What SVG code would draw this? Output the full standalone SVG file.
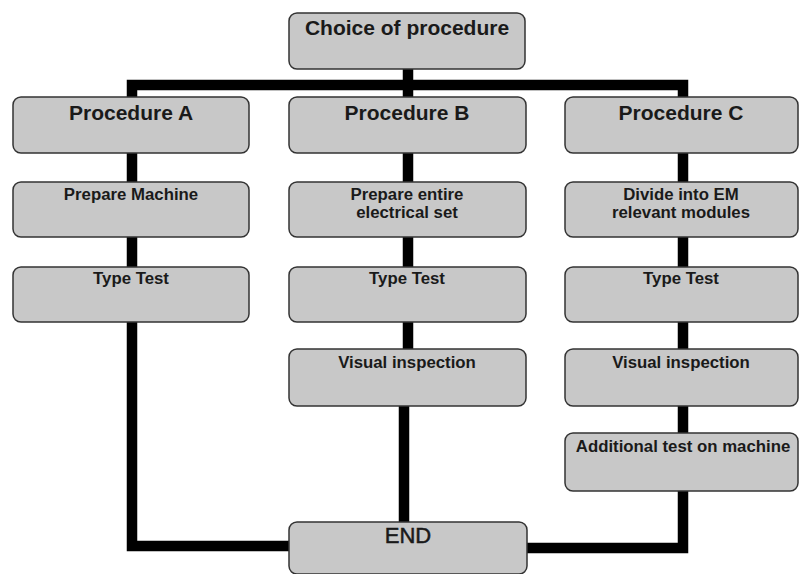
<svg xmlns="http://www.w3.org/2000/svg" width="799" height="574" viewBox="0 0 799 574">
<style>
.box{fill:#c8c8c8;stroke:#333;stroke-width:1.5}
.h{font-family:"Liberation Sans",Arial,sans-serif;font-weight:bold;font-size:21px;fill:#1a1a1a;text-anchor:middle}
.t{font-family:"Liberation Sans",Arial,sans-serif;font-weight:bold;font-size:16.8px;fill:#1a1a1a;text-anchor:middle}
.end{font-family:"Liberation Sans",Arial,sans-serif;font-size:22px;fill:#1a1a1a;stroke:#1a1a1a;stroke-width:0.5;text-anchor:middle}
.c{fill:none;stroke:#000;stroke-width:10.5;stroke-linejoin:miter}
</style>
<rect width="799" height="574" fill="#fff"/>
<g id="connectors">
<path class="c" d="M408 69 V85"/>
<path class="c" d="M132 97 V85 H683 V97"/>
<path class="c" d="M408 85 V97"/>
<path class="c" d="M132 153 V546 H289"/>
<path class="c" d="M408 153 V349"/>
<path class="c" d="M404 406 V522"/>
<path class="c" d="M683 153 V548 H527"/>
</g>
<g id="choice"><rect class="box" x="289" y="13" width="236" height="56" rx="8"/><text class="h" x="407" y="35">Choice of procedure</text></g>
<g id="procA"><rect class="box" x="13" y="97" width="236" height="56" rx="8"/><text class="h" x="131" y="120">Procedure A</text></g>
<g id="procB"><rect class="box" x="289" y="97" width="237" height="56" rx="8"/><text class="h" x="407" y="120">Procedure B</text></g>
<g id="procC"><rect class="box" x="565" y="97" width="233" height="56" rx="8"/><text class="h" x="681" y="120">Procedure C</text></g>
<g id="prepA"><rect class="box" x="13" y="182" width="236" height="55" rx="8"/><text class="t" x="131" y="200">Prepare Machine</text></g>
<g id="prepB"><rect class="box" x="289" y="182" width="237" height="55" rx="8"/><text class="t" x="407" y="200">Prepare entire</text><text class="t" x="407" y="218">electrical set</text></g>
<g id="divC"><rect class="box" x="565" y="182" width="233" height="55" rx="8"/><text class="t" x="681" y="200">Divide into EM</text><text class="t" x="681" y="218">relevant modules</text></g>
<g id="typeA"><rect class="box" x="13" y="267" width="236" height="55" rx="8"/><text class="t" x="131" y="284">Type Test</text></g>
<g id="typeB"><rect class="box" x="289" y="267" width="237" height="55" rx="8"/><text class="t" x="407" y="284">Type Test</text></g>
<g id="typeC"><rect class="box" x="565" y="267" width="233" height="55" rx="8"/><text class="t" x="681" y="284">Type Test</text></g>
<g id="visB"><rect class="box" x="289" y="349" width="237" height="57" rx="8"/><text class="t" x="407" y="368">Visual inspection</text></g>
<g id="visC"><rect class="box" x="565" y="349" width="233" height="57" rx="8"/><text class="t" x="681" y="368">Visual inspection</text></g>
<g id="addC"><rect class="box" x="565" y="433" width="233" height="58" rx="8"/><text class="t" x="683" y="452">Additional test on machine</text></g>
<g id="end"><rect class="box" x="289" y="522" width="238" height="52" rx="8"/><text class="end" x="408" y="543">END</text></g>
</svg>
